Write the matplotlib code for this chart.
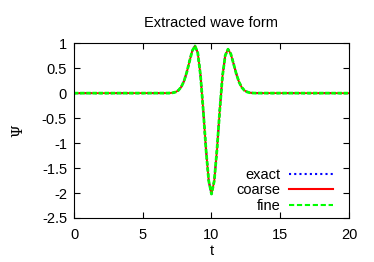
import matplotlib
matplotlib.use("Agg")
import matplotlib.pyplot as plt
from matplotlib.ticker import FuncFormatter

plt.rcParams['font.family'] = ['Liberation Sans', 'DejaVu Sans']
plt.rcParams['axes.unicode_minus'] = False

t = [0.0, 6.8, 7.0, 7.2, 7.4, 7.6, 7.8, 8.0, 8.2, 8.4, 8.6, 8.8, 9.0, 9.2, 9.4, 9.6, 9.8,
     10.0, 10.2, 10.4, 10.6, 10.8, 11.0, 11.2, 11.4, 11.6, 11.8, 12.0, 12.2, 12.4, 12.6,
     12.8, 13.0, 13.2, 20.0]
psi_exact = [0.0, 0.001, 0.003, 0.009, 0.024, 0.058, 0.125, 0.242, 0.418, 0.638, 0.848,
             0.945, 0.81, 0.36, -0.345, -1.129, -1.759,
             -2.02, -1.759, -1.129, -0.345, 0.341, 0.755, 0.88, 0.79, 0.595, 0.39,
             0.225, 0.116, 0.054, 0.023, 0.009, 0.003, 0.001, 0.0]
psi_coarse = list(psi_exact)
psi_fine = list(psi_exact)

labels = ["exact", "coarse", "fine"]
xticks = [0, 5, 10, 15, 20]
yticks = [1, 0.5, 0, -0.5, -1, -1.5, -2, -2.5]

FS = 10.5

fig = plt.figure(figsize=(3.74, 2.62), dpi=100)
ax = fig.add_axes([0.198, 0.168, 0.735, 0.667])

ax.plot(t, psi_exact, color='#0000ff', lw=1.5, ls=(0, (1, 1.5)), label=labels[0])
ax.plot(t, psi_coarse, color='#ff0000', lw=1.3, ls='-', label=labels[1])
ax.plot(t, psi_fine, color='#00ff00', lw=2.0, ls=(0, (1.6, 0.6)), label=labels[2])

ax.set_xlim(0, 20)
ax.set_ylim(-2.5, 1)
ax.set_xticks(xticks)
ax.set_yticks(yticks)
ax.yaxis.set_major_formatter(FuncFormatter(lambda v, p: '%g' % v))
ax.xaxis.set_major_formatter(FuncFormatter(lambda v, p: '%g' % v))
ax.tick_params(direction='in', length=4, width=0.8, top=True, right=True,
               labelsize=FS, colors='black')
ax.tick_params(axis='x', pad=7)
ax.tick_params(axis='y', pad=5)
for s in ax.spines.values():
    s.set_linewidth(0.8)

ax.set_title("Extracted wave form", fontsize=FS, pad=12)
ax.set_xlabel("t", fontsize=FS, labelpad=2)
ax.set_ylabel("Ψ", fontsize=FS, labelpad=12, family=['DejaVu Serif'])

leg = ax.legend(loc='lower right', bbox_to_anchor=(0.942, 0.03), frameon=False,
                markerfirst=False, fontsize=FS, handlelength=3.0, handletextpad=0.6,
                labelspacing=0.1, borderpad=0, borderaxespad=0)
for h in leg.get_lines():
    h.set_linewidth(1.5)
leg.get_lines()[2].set_dashes((2.5, 1.3))

fig.savefig("out.png", dpi=100)
